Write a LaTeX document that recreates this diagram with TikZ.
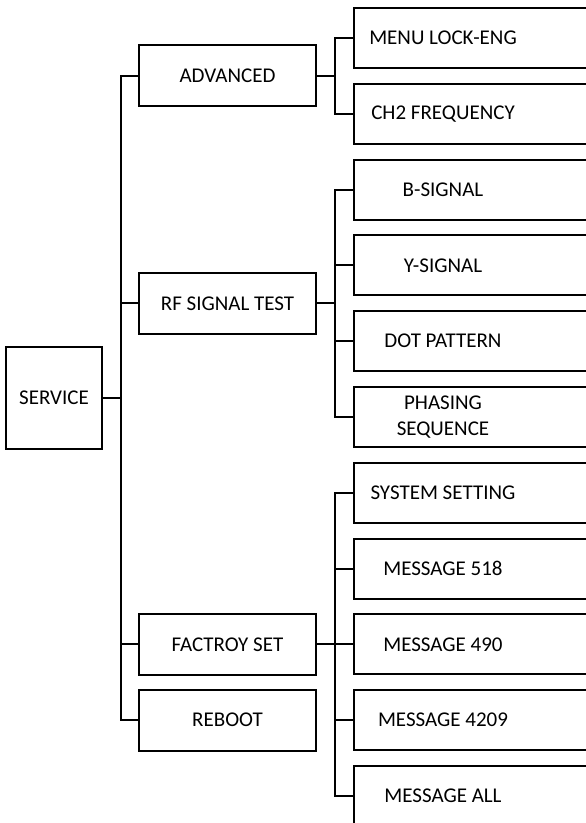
\documentclass[tikz,border=0pt]{standalone}
\usepackage{fontspec}
\setmainfont{Carlito}
\usetikzlibrary{positioning,calc}
\newcommand{\leaftext}[1]{\parbox{178pt}{\spaceskip=0pt\xspaceskip=0pt\centering #1}}
\tikzset{
  menu/.style={rectangle, draw=black, line width=2pt, fill=white,
    minimum width=177pt, minimum height=61pt, inner sep=0pt,
    font=\fontsize{21}{26}\selectfont},
  leaf/.style={rectangle, draw=black, line width=2pt, fill=white,
    text width=250pt, minimum height=60pt, inner xsep=0pt, inner ysep=0pt,
    align=left, font=\fontsize{21}{26}\selectfont},
  root/.style={rectangle, draw=black, line width=2pt, fill=white,
    minimum width=96pt, minimum height=102pt, inner sep=0pt,
    font=\fontsize{21}{26}\selectfont},
  link/.style={line width=2pt, line cap=rect},
}
\begin{document}
\begin{tikzpicture}[x=1pt, y=-1pt, node distance=13.8pt]
\useasboundingbox (0,0) rectangle (586,823);
\clip (0,0) rectangle (586,823);

% right column
\node[leaf, anchor=west] (m1) at (353,38) {\leaftext{MENU LOCK-ENG}};
\node[leaf, below=of m1] (m2) {\leaftext{CH2 FREQUENCY}};
\node[leaf, below=of m2] (m3) {\leaftext{B-SIGNAL}};
\node[leaf, below=of m3] (m4) {\leaftext{Y-SIGNAL}};
\node[leaf, below=of m4] (m5) {\leaftext{DOT PATTERN}};
\node[leaf, below=of m5] (m6) {\leaftext{PHASING\\SEQUENCE}};
\node[leaf, below=of m6] (m7) {\leaftext{SYSTEM SETTING}};
\node[leaf, below=of m7] (m8) {\leaftext{MESSAGE 518}};
\node[leaf, below=of m8] (m9) {\leaftext{MESSAGE 490}};
\node[leaf, below=of m9] (m10) {\leaftext{MESSAGE 4209}};
\node[leaf, below=of m10] (m11) {\leaftext{MESSAGE ALL}};

% middle column
\node[menu, anchor=east] (adv) at ($(m1.west)!0.5!(m2.west)+(-36,0)$) {ADVANCED};
\node[menu, anchor=east] (rf) at ($(m3.west)!0.5!(m6.west)+(-36,0)$) {RF SIGNAL TEST};
\node[menu, anchor=east] (fac) at ($(m7.west)!0.5!(m11.west)+(-36,0)$) {FACTROY SET};
\node[menu, anchor=east] (rbt) at ($(m10.west)+(-36,0)$) {REBOOT};

% root
\node[root, anchor=east] (svc) at ($(adv.west)!0.5!(rbt.west)+(-35,0)$) {SERVICE};

% connectors
\foreach \sub in {adv,rf,fac,rbt}
  \draw[link] (svc.east) -- ++(18,0) |- (\sub.west);
\foreach \sub in {m1,m2}
  \draw[link] (adv.east) -- ++(18,0) |- (\sub.west);
\foreach \sub in {m3,m4,m5,m6}
  \draw[link] (rf.east) -- ++(18,0) |- (\sub.west);
\foreach \sub in {m7,m8,m9,m10,m11}
  \draw[link] (fac.east) -- ++(18,0) |- (\sub.west);
\end{tikzpicture}
\end{document}
